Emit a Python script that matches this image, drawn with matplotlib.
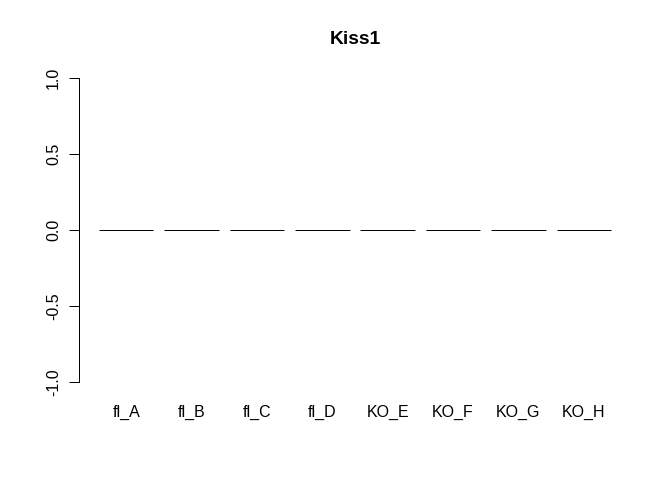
import matplotlib
matplotlib.use("Agg")
import matplotlib.pyplot as plt
import numpy as np

plt.rcParams['font.family'] = ['Liberation Sans', 'DejaVu Sans']

title = "Kiss1"
categories = ["fl_A", "fl_B", "fl_C", "fl_D", "KO_E", "KO_F", "KO_G", "KO_H"]
values = [0, 0, 0, 0, 0, 0, 0, 0]
yticks = [-1.0, -0.5, 0.0, 0.5, 1.0]

W, H, DPI = 672, 480, 96
fig = plt.figure(figsize=(W / DPI, H / DPI), dpi=DPI)
left, right, top, bottom = 78.5, 631.5, 65.8, 394.2
ax = fig.add_axes([left / W, 1 - bottom / H, (right - left) / W, (bottom - top) / H])

width = 1.0
space = 0.2
x = np.array([space + i * (width + space) + width / 2 for i in range(len(categories))])
ax.bar(x, values, width=width, facecolor="#bebebe", edgecolor="black", linewidth=0.75)

x0, x1 = space, space + len(categories) * (width + space) - space
ext = (x1 - x0) * 0.04
ax.set_xlim(x0 - ext, x1 + ext)
ax.set_ylim(-1.08, 1.08)

for s in ["top", "right", "bottom"]:
    ax.spines[s].set_visible(False)
ax.spines["left"].set_bounds(-1, 1)
ax.spines["left"].set_linewidth(0.75)

ax.set_yticks(yticks)
ax.set_yticklabels([f"{v:.1f}" for v in yticks], rotation=90, va="center", fontsize=12)
ax.tick_params(axis="y", direction="out", length=7.2, width=0.75, pad=6)
ax.set_xticks(x)
ax.set_xticklabels(categories, fontsize=12)
ax.tick_params(axis="x", length=0, pad=8)

fig.text(((left + right) / 2) / W, 1 - 40 / H, title, ha="center", va="center",
         fontsize=14.4, fontweight="bold")

fig.savefig("out.png", dpi=DPI, facecolor="white")
